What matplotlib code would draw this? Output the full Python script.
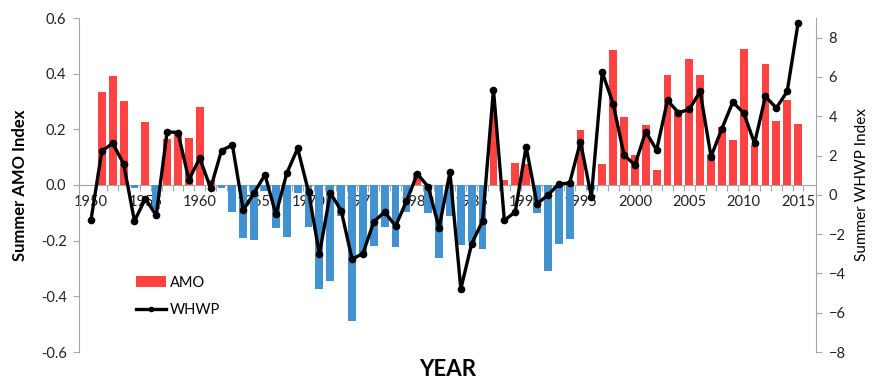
import numpy as np
import matplotlib
matplotlib.use("Agg")
import matplotlib.pyplot as plt
from matplotlib.patches import Patch
from matplotlib.lines import Line2D

plt.rcParams['font.family'] = ['Lato', 'DejaVu Sans']

# Données
years = list(range(1950, 2016))
amo = [np.nan, 0.333, 0.39, 0.303, -0.012, 0.225, -0.085, 0.164, 0.19, 0.17,
       0.28, 0.018, -0.01, -0.096, -0.19, -0.198, -0.02, -0.155, -0.186, -0.028,
       -0.15, -0.374, -0.344, -0.11, -0.49, -0.254, -0.22, -0.15, -0.222, -0.096,
       0.043, -0.1, -0.264, -0.11, -0.216, -0.204, -0.23, 0.27, 0.018, 0.08,
       0.074, -0.1, -0.31, -0.212, -0.195, 0.198, -0.018, 0.074, 0.486, 0.246,
       0.107, 0.215, 0.054, 0.397, 0.27, 0.452, 0.397, 0.11, 0.21, 0.162,
       0.49, 0.144, 0.434, 0.23, 0.306, 0.219]
whwp = [-1.29, 2.23, 2.62, 1.58, -1.34, -0.19, -1.05, 3.21, 3.17, 0.77,
        1.86, 0.34, 2.25, 2.54, -0.78, 0.1, 1.02, -1.0, 1.1, 2.36,
        0.16, -3.02, 0.09, -0.8, -3.27, -2.99, -1.37, -0.87, -1.59, -0.33,
        1.07, 0.41, -1.68, 1.15, -4.79, -2.48, -1.34, 5.36, -1.3, -0.87,
        2.45, -0.45, -0.02, 0.55, 0.6, 2.7, -0.11, 6.24, 4.64, 2.03,
        1.52, 3.21, 2.28, 4.81, 4.18, 4.35, 5.26, 1.94, 3.37, 4.72,
        4.17, 2.62, 5.01, 4.42, 5.26, 8.73]
year_labels = list(range(1950, 2016, 5))

RED = "#ff4242"
BLUE = "#4292d2"
GRAY = "#a6a6a6"

fig = plt.figure(figsize=(8.74, 3.82), dpi=100)
ax = fig.add_axes([79 / 874, 30 / 382, 737 / 874, 334 / 382])
ax2 = ax.twinx()

colors = [RED if v >= 0 else BLUE for v in amo]
ax.bar(years, amo, width=0.72, color=colors, zorder=2)

ax2.plot(years, whwp, color="black", lw=2.4, marker="o", ms=4.5, zorder=3)

# Axe gauche (AMO)
ax.set_xlim(1948.9, 2016.65)
ax.set_ylim(-0.6, 0.6)
ax.set_yticks(np.arange(-0.6, 0.61, 0.2))
ax.set_yticklabels([f"{v:.1f}" for v in np.arange(-0.6, 0.61, 0.2)])
ax.spines['top'].set_visible(False)
ax.spines['right'].set_visible(False)
ax.spines['bottom'].set_position(('data', 0))
ax.spines['bottom'].set_color(GRAY)
ax.spines['left'].set_color(GRAY)
ax.spines['bottom'].set_zorder(1)
ax.tick_params(axis='y', colors=GRAY, labelcolor="#222222", labelsize=10.5,
               length=4, width=0.8, pad=5)
ax.set_xticks(year_labels)
ax.set_xticklabels([str(y) for y in year_labels])
ax.set_xticks(np.arange(1950.5, 2016, 1), minor=True)
ax.tick_params(axis='x', which='major', length=0, labelsize=10.5,
               labelcolor="#222222", pad=7)
ax.tick_params(axis='x', which='minor', length=4, width=0.8, color=GRAY)
ax.set_ylabel("Summer AMO Index", fontsize=12, fontweight="bold", labelpad=9)
ax.set_xlabel("YEAR", fontsize=16, fontweight="bold")
ax.xaxis.set_label_coords(0.5, -0.02)

# Axe droit (WHWP)
ax2.set_ylim(-8, 9)
ax2.set_yticks(range(-8, 9, 2))
for s in ['top', 'left', 'bottom']:
    ax2.spines[s].set_visible(False)
ax2.spines['right'].set_color(GRAY)
ax2.tick_params(axis='y', colors=GRAY, labelcolor="#222222", labelsize=10.5,
                length=4, width=0.8, pad=5)
ax2.set_ylabel("Summer WHWP Index", fontsize=11, labelpad=7)

handles = [Patch(facecolor=RED, edgecolor='none'),
           Line2D([0], [0], color="black", lw=2.4, marker="o", ms=3)]
ax2.legend(handles, ["AMO", "WHWP"], loc="upper left",
           bbox_to_anchor=(0.068, 0.25), frameon=False, fontsize=10.5,
           handlelength=2.0, handleheight=0.8, labelspacing=0.9,
           handletextpad=0.3, borderpad=0)

fig.savefig("out.png", dpi=100)
